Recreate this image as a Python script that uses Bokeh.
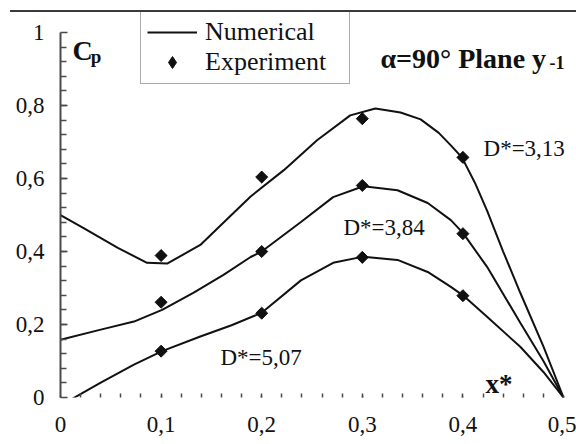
from bokeh.plotting import figure
from bokeh.models import (Label, Legend, LegendItem, FixedTicker, CustomJSTickFormatter)
from bokeh.embed import file_html
from bokeh.resources import INLINE
import math

# ---- data ----
num1_x = [0.0, 0.023, 0.057, 0.086, 0.106, 0.139, 0.166, 0.189, 0.222, 0.255, 0.288, 0.313, 0.338, 0.358, 0.376, 0.388, 0.399, 0.412, 0.424, 0.44, 0.457, 0.48, 0.5]
num1_y = [0.50, 0.464, 0.41, 0.369, 0.367, 0.418, 0.49, 0.551, 0.623, 0.705, 0.773, 0.792, 0.781, 0.762, 0.725, 0.691, 0.658, 0.588, 0.512, 0.40, 0.287, 0.14, 0.0]

num2_x = [0.0, 0.04, 0.073, 0.101, 0.132, 0.162, 0.189, 0.2, 0.239, 0.271, 0.301, 0.335, 0.365, 0.388, 0.4, 0.424, 0.457, 0.48, 0.5]
num2_y = [0.158, 0.186, 0.208, 0.24, 0.287, 0.336, 0.385, 0.40, 0.481, 0.549, 0.579, 0.568, 0.533, 0.486, 0.451, 0.358, 0.205, 0.10, 0.0]

num3_x = [0.007, 0.04, 0.073, 0.101, 0.139, 0.17, 0.2, 0.239, 0.271, 0.301, 0.335, 0.365, 0.388, 0.4, 0.424, 0.457, 0.48, 0.5]
num3_y = [-0.011, 0.041, 0.09, 0.127, 0.167, 0.198, 0.232, 0.321, 0.369, 0.386, 0.377, 0.344, 0.303, 0.28, 0.221, 0.139, 0.07, 0.0]

exp_x = [0.1, 0.2, 0.3, 0.4]
exp1_y = [0.389, 0.604, 0.764, 0.658]
exp2_y = [0.261, 0.400, 0.581, 0.449]
exp3_y = [0.127, 0.231, 0.384, 0.279]

x_ticks = [0.0, 0.1, 0.2, 0.3, 0.4, 0.5]
x_tick_labels = ["0", "0,1", "0,2", "0,3", "0,4", "0,5"]
y_ticks = [0.0, 0.2, 0.4, 0.6, 0.8, 1.0]
y_tick_labels = ["0", "0,2", "0,4", "0,6", "0,8", "1"]

FONT = "Liberation Serif"
INK = "#111111"
AX = "#4a4a4a"

p = figure(width=566, height=432, x_range=(0, 0.5129), y_range=(0, 1.055),
           output_backend="svg", toolbar_location=None,
           min_border_left=50, min_border_right=0, min_border_top=0, min_border_bottom=47)
p.styles = {"border-top": "2px solid #3a3a3a", "margin-top": "10px", "margin-left": "10px"}
p.outline_line_color = None
p.xgrid.grid_line_color = None
p.ygrid.grid_line_color = None
p.background_fill_color = "white"

fmt_js = "const i = tvals.findIndex(t => Math.abs(t - tick) < 1e-9); return i >= 0 ? tlabels[i] : '';"

# x axis
xa = p.xaxis[0]
xa.ticker = FixedTicker(ticks=x_ticks, minor_ticks=[round(0.02 * i, 2) for i in range(1, 25)])
xa.formatter = CustomJSTickFormatter(args=dict(tvals=x_ticks, tlabels=x_tick_labels), code=fmt_js)
xa.bounds = (0, 0.5)
xa.axis_line_color = None
xa.major_tick_in = 2
xa.major_tick_out = 0
xa.minor_tick_in = 4
xa.minor_tick_out = 0
xa.major_tick_line_color = AX
xa.minor_tick_line_color = AX
xa.major_tick_line_width = 1.5
xa.minor_tick_line_width = 1.5
xa.major_label_text_font = FONT
xa.major_label_text_font_size = "23px"
xa.major_label_text_color = INK
xa.major_label_standoff = 19

# y axis
ya = p.yaxis[0]
ya.ticker = FixedTicker(ticks=y_ticks, minor_ticks=[round(0.04 * i, 2) for i in range(1, 25)])
ya.formatter = CustomJSTickFormatter(args=dict(tvals=y_ticks, tlabels=y_tick_labels), code=fmt_js)
ya.bounds = (0, 1)
ya.axis_line_color = AX
ya.axis_line_width = 2
ya.major_tick_in = 7
ya.major_tick_out = 0
ya.minor_tick_in = 6
ya.minor_tick_out = 0
ya.major_tick_line_color = AX
ya.minor_tick_line_color = AX
ya.major_tick_line_width = 1.5
ya.minor_tick_line_width = 1.5
ya.major_label_text_font = FONT
ya.major_label_text_font_size = "23px"
ya.major_label_text_color = INK
ya.major_label_standoff = 16

# curves
l1 = p.line(num1_x, num1_y, line_color=INK, line_width=2)
p.line(num2_x, num2_y, line_color=INK, line_width=2)
p.line(num3_x, num3_y, line_color=INK, line_width=2)

# legend swatch glyph (a diamond, fully hidden under the experiment markers)
s_leg = p.scatter(exp_x, exp1_y, marker="diamond", size=11, fill_color=INK, line_color=INK, line_width=1)

mk = dict(marker="square", angle=math.pi / 4, size=8.5, fill_color=INK, line_color=INK, line_width=1)
p.scatter(exp_x, exp1_y, **mk)
p.scatter(exp_x, exp2_y, **mk)
p.scatter(exp_x, exp3_y, **mk)

legend = Legend(items=[LegendItem(label="Numerical", renderers=[l1]),
                       LegendItem(label="Experiment", renderers=[s_leg])],
                location=(80, 313), orientation="vertical")
legend.label_text_font = FONT
legend.label_text_font_size = "26px"
legend.label_text_color = INK
legend.glyph_width = 50
legend.glyph_height = 30
legend.label_height = 30
legend.label_width = 138
legend.label_standoff = 8
legend.spacing = 0
legend.padding = 6
legend.margin = 0
legend.border_line_color = "#555555"
legend.border_line_width = 1.5
legend.background_fill_color = "white"
legend.background_fill_alpha = 1.0
p.add_layout(legend, "center")

def lab(x, y, text, size, bold=False):
    p.add_layout(Label(x=x, y=y, text=text, text_font=FONT, text_font_size=size,
                       text_font_style="bold" if bold else "normal", text_color=INK,
                       text_baseline="alphabetic", text_align="left"))

lab(0.0119, 0.951, "C", "28px", True)
lab(0.0300, 0.935, "p", "19px", True)
lab(0.318, 0.929, "α=90° Plane y", "28px", True)
lab(0.486, 0.918, "-1", "18px", True)
lab(0.4205, 0.682, "D*=3,13", "23px")
lab(0.2813, 0.466, "D*=3,84", "23px")
lab(0.159, 0.110, "D*=5,07", "23px")
lab(0.4225, 0.038, "x*", "27px", True)

open("out.html", "w").write(file_html(p, INLINE))
